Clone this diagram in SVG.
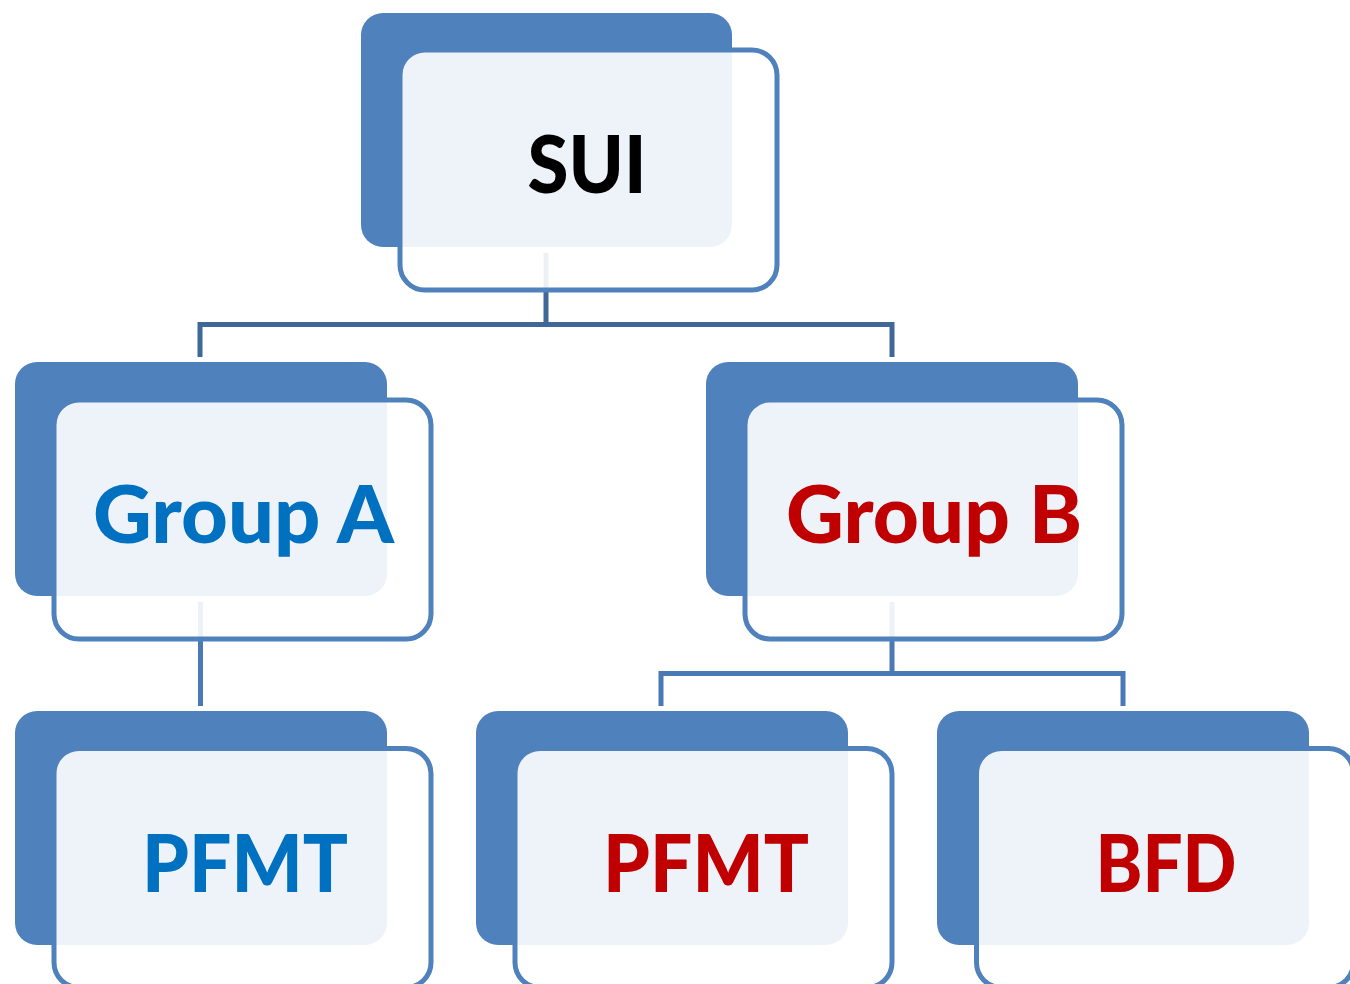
<svg xmlns="http://www.w3.org/2000/svg" width="1350" height="984" viewBox="0 0 1350 984">
<style>
.back{fill:#4F81BD}
.front{fill:#FFFFFF;fill-opacity:0.9;stroke:#4F81BD;stroke-width:5}
.lbl{font-family:Lato,"Liberation Sans",sans-serif;font-weight:900;font-size:80px;text-anchor:middle}
.c1{fill:none;stroke:#3F6798;stroke-width:5}
.c2{fill:none;stroke:#4A7AB5;stroke-width:5}
</style>
<rect width="1350" height="984" fill="#FFFFFF"/>
<g id="connectors">
<path class="c1" d="M546,253 V324.5 M200,357 V324.5 H892 V357"/>
<path class="c2" d="M200.5,602 V706"/>
<path class="c2" d="M892,602 V673.5 M661,706 V673.5 H1123 V706"/>
</g>
<g id="node-sui">
<rect class="back" x="361" y="13" width="371" height="234" rx="22"/>
<rect class="front" x="400" y="50" width="377" height="240" rx="25"/>
<text class="lbl" x="587" y="193" fill="#000000" textLength="119" lengthAdjust="spacingAndGlyphs">SUI</text>
</g>
<g id="node-groupA">
<rect class="back" x="15" y="362" width="372" height="234" rx="22"/>
<rect class="front" x="54" y="400" width="377" height="239" rx="25"/>
<text class="lbl" x="243.5" y="543" fill="#0070C0" textLength="301" lengthAdjust="spacingAndGlyphs">Group A</text>
</g>
<g id="node-groupB">
<rect class="back" x="706" y="362" width="372" height="234" rx="22"/>
<rect class="front" x="745" y="400" width="377" height="239" rx="25"/>
<text class="lbl" x="934" y="543" fill="#C00000" textLength="296" lengthAdjust="spacingAndGlyphs">Group B</text>
</g>
<g id="node-pfmtA">
<rect class="back" x="15" y="711" width="372" height="234" rx="22"/>
<rect class="front" x="54" y="748.5" width="377" height="239" rx="25"/>
<text class="lbl" x="245" y="892" fill="#0070C0" textLength="206" lengthAdjust="spacingAndGlyphs">PFMT</text>
</g>
<g id="node-pfmtB">
<rect class="back" x="476" y="711" width="372" height="234" rx="22"/>
<rect class="front" x="515" y="748.5" width="377" height="239" rx="25"/>
<text class="lbl" x="706" y="892" fill="#C00000" textLength="206" lengthAdjust="spacingAndGlyphs">PFMT</text>
</g>
<g id="node-bfd">
<rect class="back" x="937" y="711" width="372" height="234" rx="22"/>
<rect class="front" x="976.5" y="748.5" width="377" height="239" rx="25"/>
<text class="lbl" x="1166" y="892" fill="#C00000" textLength="141" lengthAdjust="spacingAndGlyphs">BFD</text>
</g>
</svg>
